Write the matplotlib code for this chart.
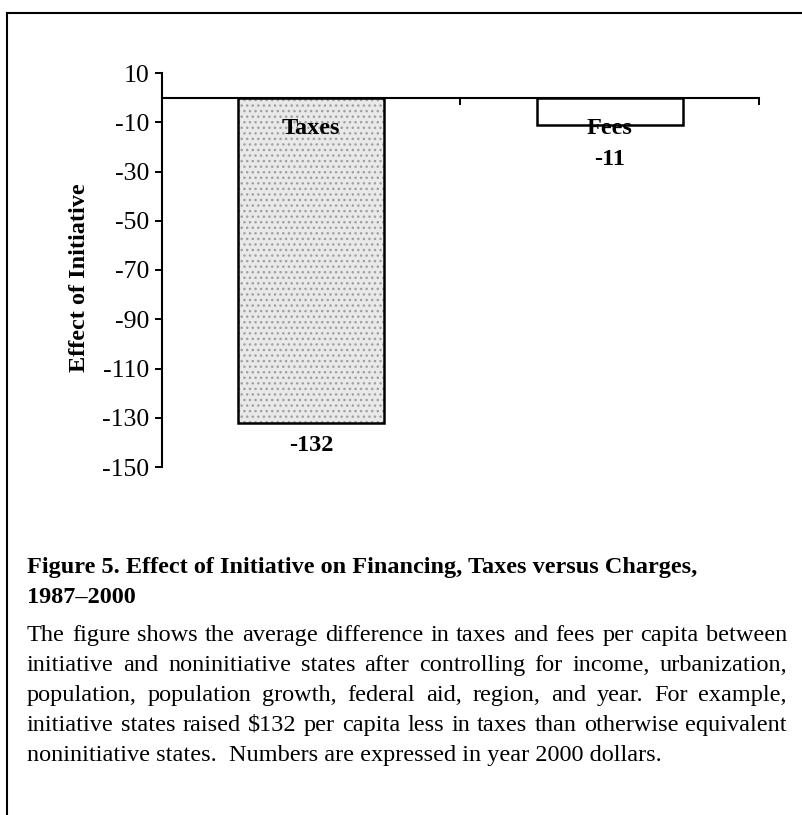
import matplotlib.pyplot as plt

# data
categories = ['Taxes', 'Fees']
effects = [-132, -11]
value_labels = ['-132', '-11']
y_ticks = [10, -10, -30, -50, -70, -90, -110, -130, -150]

title_lines = [
    'Figure 5. Effect of Initiative on Financing, Taxes versus Charges,',
    '1987\u20132000',
]
body_lines = [
    'The figure shows the average difference in taxes and fees per capita between',
    'initiative and noninitiative states after controlling for income, urbanization,',
    'population, population growth, federal aid, region, and year.  For example,',
    'initiative states raised \\$132 per capita less in taxes than otherwise equivalent',
    'noninitiative states.  Numbers are expressed in year 2000 dollars.',
]

plt.rcParams['font.family'] = 'Liberation Serif'
plt.rcParams['axes.unicode_minus'] = False

W, H = 803, 815
fig = plt.figure(figsize=(W / 100, H / 100), dpi=100)
fig.patch.set_facecolor('white')

# axes placed in pixel terms
ax = fig.add_axes([162 / W, 1 - 467 / H, (759 - 162) / W, (467 - 73) / H])
x = list(range(len(categories)))

# stippled fill for the taxes bar, plain for fees
fills = ['#e9e9e9', 'white']
hatches = ['...', '']
ax.bar(x, effects, width=0.49, color=fills, hatch=hatches, edgecolor='#a0a0a0',
       linewidth=0, zorder=2)
ax.bar(x, effects, width=0.49, color='none', edgecolor='black', linewidth=1.8, zorder=3)

ax.set_xlim(-0.5, 1.5)
ax.set_ylim(-150, 10)
ax.set_yticks(y_ticks)
ax.set_yticklabels([str(t) for t in y_ticks], fontsize=18.5)
ax.tick_params(axis='y', direction='out', length=5, width=1.4, pad=4)

ax.spines['top'].set_visible(False)
ax.spines['right'].set_visible(False)
ax.spines['left'].set_linewidth(1.5)
ax.spines['bottom'].set_position(('data', 0))
ax.spines['bottom'].set_linewidth(1.5)
ax.set_xticks([0.5, 1.5])
ax.set_xticklabels([])
ax.tick_params(axis='x', direction='out', length=5, width=1.4)

# category names inside the bars and values below them
label_offsets = [23, 35]
for xi, name, v, lab, off in zip(x, categories, effects, value_labels, label_offsets):
    ax.text(xi, -12.5, name, ha='center', va='center', fontsize=17.5,
            fontweight='bold', zorder=4)
    ax.annotate(lab, xy=(xi, v), xytext=(0, -off), textcoords='offset pixels',
                ha='center', va='center', fontsize=17.5, fontweight='bold')

fig.text(80 / W, 1 - 278 / H, 'Effect of Initiative', rotation=90, ha='center',
         va='center', fontsize=17.5, fontweight='bold')

# frame around the figure (left and top edges visible)
fig.add_artist(plt.Line2D([7 / W, 7 / W], [1 - 13 / H, 0], transform=fig.transFigure,
                          color='black', linewidth=1.5))
fig.add_artist(plt.Line2D([7 / W, 1], [1 - 13 / H, 1 - 13 / H], transform=fig.transFigure,
                          color='black', linewidth=1.5))

# caption
left, right = 27, 787
for i, line in enumerate(title_lines):
    fig.text(left / W, 1 - (573 + 30 * i) / H, line, fontsize=17.5,
             fontweight='bold', va='baseline')

renderer = fig.canvas.get_renderer()
body_size = 17.5
for i, line in enumerate(body_lines):
    yb = 1 - (641 + 30 * i) / H
    if i == len(body_lines) - 1:
        fig.text(left / W, yb, line, fontsize=body_size, va='baseline')
        continue
    words = line.split()
    arts = [fig.text(0, yb, w, fontsize=body_size, va='baseline') for w in words]
    widths = [a.get_window_extent(renderer).width for a in arts]
    gap = (right - left - sum(widths)) / (len(words) - 1)
    xp = left
    for a, w in zip(arts, widths):
        a.set_x(xp / W)
        xp += w + gap

fig.savefig('out.png', dpi=100)
